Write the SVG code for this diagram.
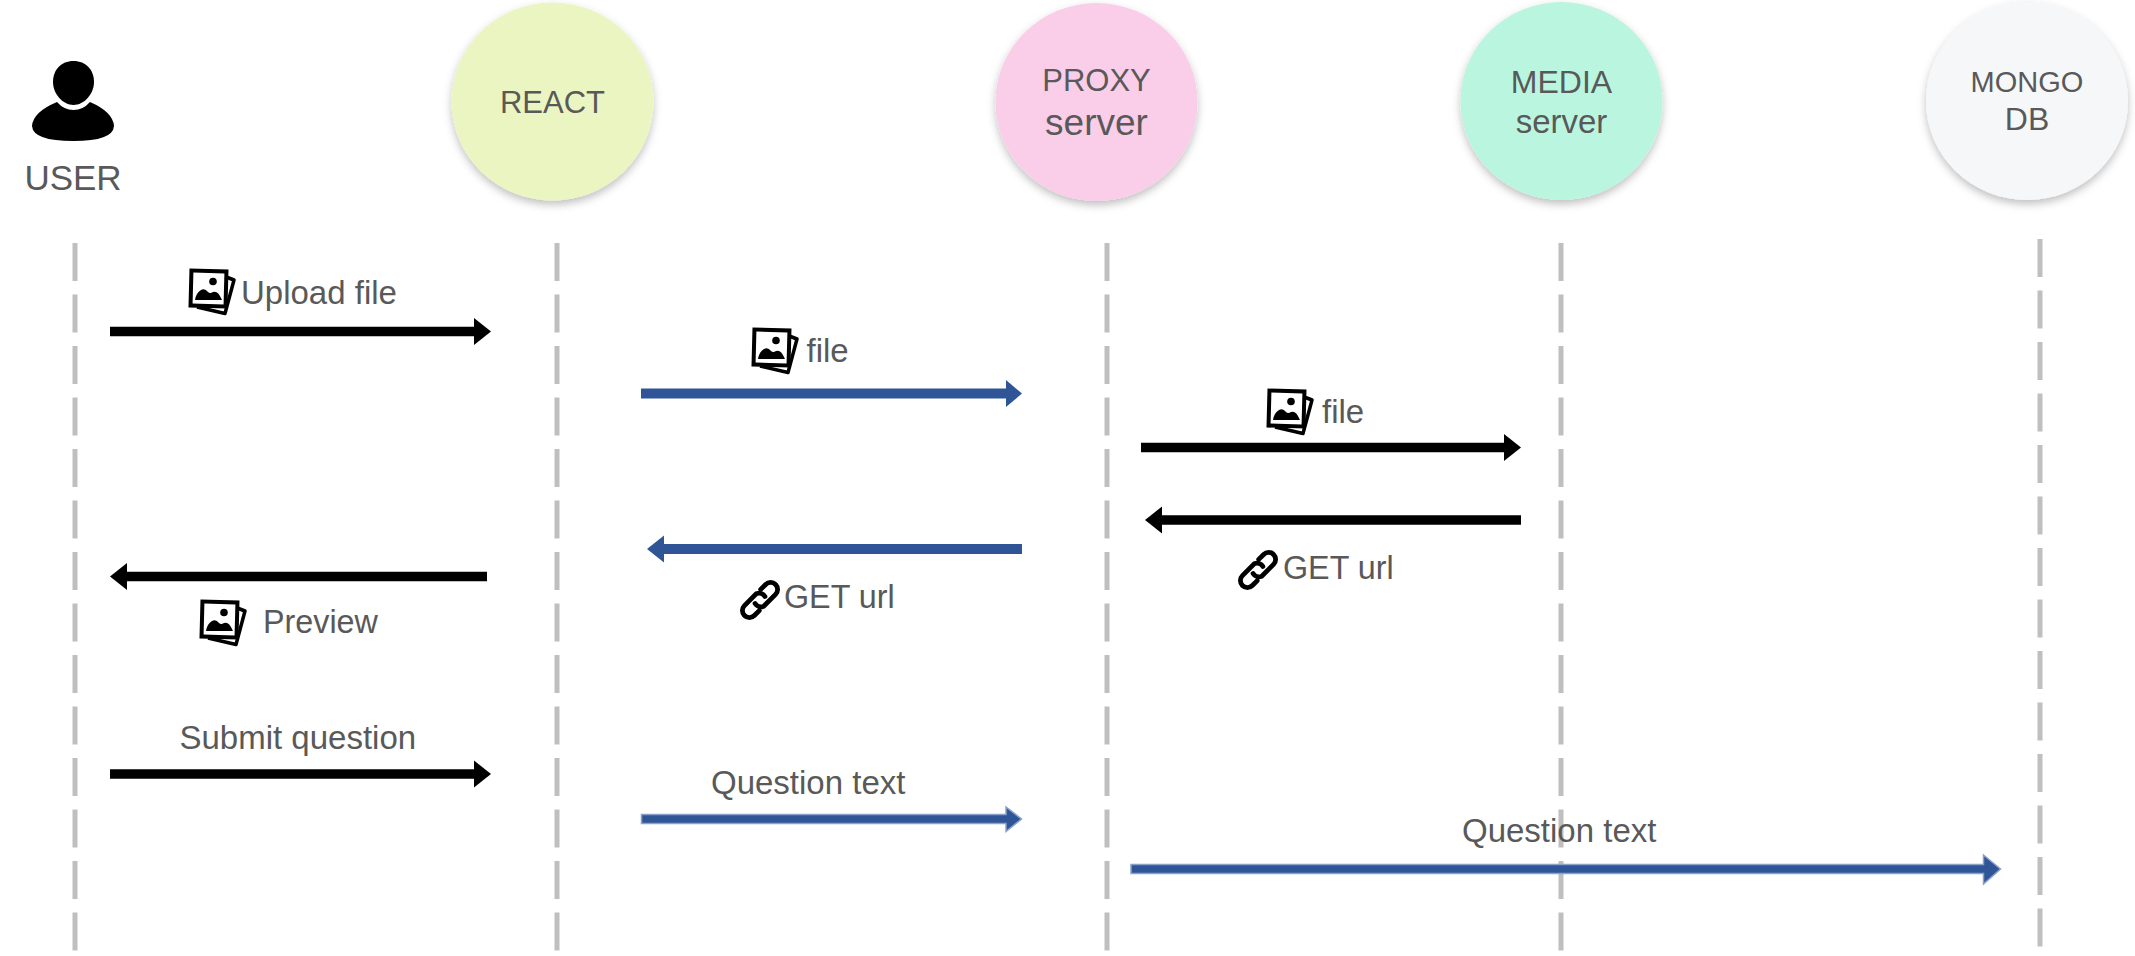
<svg xmlns="http://www.w3.org/2000/svg" xmlns:xlink="http://www.w3.org/1999/xlink" width="2135" height="956" viewBox="0 0 2135 956">
<style>
text{font-family:"Liberation Sans",Arial,sans-serif;fill:#595959;font-size:33px}
.m{text-anchor:middle}
.s{font-size:32.300px}
.life{stroke:#bfbfbf;stroke-width:5;stroke-dasharray:38 13.5;fill:none}
.k{stroke:#000;stroke-width:9.5;fill:none}
.b{stroke:#2f5597;stroke-width:10;fill:none}
.kh{fill:#000}
.bh{fill:#2f5597}
.edge{stroke:#8aa2cb;stroke-width:1.5}
</style>
<defs>
<filter id="sh" x="-20%" y="-20%" width="140%" height="140%"><feDropShadow dx="0" dy="4" stdDeviation="4" flood-color="#000" flood-opacity="0.25"/></filter>
<g id="pic">
<path d="M38.5 8.5 L45 11 L36 44.5 L8 38" fill="none" stroke="#000" stroke-width="3.5" stroke-linejoin="round"/>
<rect x="2" y="2" width="35" height="35" fill="#fff" stroke="#000" stroke-width="4" transform="rotate(1.5 19 19)"/>
<circle cx="24" cy="12.5" r="3.8" fill="#000"/>
<path d="M6 31 Q7 24 12 21 Q16 19 19 23 Q21 25 24 23 Q29 21 33 31 Z" fill="#000"/>
</g>
<g id="link">
<g transform="translate(19 19) rotate(-45)" fill="none" stroke="#000" stroke-width="4.8" stroke-linecap="round">
<path d="M-8 7 H-15 A7 7 0 0 1 -15 -7 H2 A7 7 0 0 1 6 1"/>
<path d="M8 -7 H15 A7 7 0 0 1 15 7 H-2 A7 7 0 0 1 -6 -1"/>
</g>
</g>
</defs>
<g id="lifelines">
<line class="life" x1="75" y1="243" x2="75" y2="951"/>
<line class="life" x1="557" y1="243" x2="557" y2="951"/>
<line class="life" x1="1107" y1="243" x2="1107" y2="951"/>
<line class="life" x1="1561" y1="243" x2="1561" y2="951"/>
<line class="life" x1="2040" y1="239" x2="2040" y2="947"/>
</g>
<g id="user">
<path d="M73.500 61 C86 61 94 70 94 82 C94 94 84 105 73.500 105 C63 105 53 94 53 82 C53 70 61 61 73.500 61 Z"/>
<path d="M57 102 Q64 110 73.500 110 Q83 110 90 102 Q113 112 114 126 Q113 141 73.500 141 Q33 141 32 126 Q33 112 57 102 Z"/>
<text class="m" x="73" y="190" style="font-size:35px">USER</text>
</g>
<g id="react">
<ellipse cx="552.500" cy="101.500" rx="101" ry="99" fill="#ebf5c1" filter="url(#sh)"/>
<text class="m" x="552.500" y="113" style="font-size:31px">REACT</text>
</g>
<g id="proxy">
<ellipse cx="1096.500" cy="102" rx="101" ry="99" fill="#facde9" filter="url(#sh)"/>
<text class="m" x="1096.500" y="91" style="font-size:31px">PROXY</text>
<text class="m" x="1096.500" y="135" style="font-size:37px">server</text>
</g>
<g id="media">
<ellipse cx="1561.500" cy="101" rx="101" ry="99" fill="#baf6df" filter="url(#sh)"/>
<text class="m" x="1561.500" y="93" style="font-size:32px">MEDIA</text>
<text class="m" x="1561.500" y="133" style="font-size:33px">server</text>
</g>
<g id="mongo">
<ellipse cx="2027" cy="101" rx="101" ry="99" fill="#f6f7f9" filter="url(#sh)"/>
<text class="m" x="2027" y="92" style="font-size:29px">MONGO</text>
<text class="m" x="2027" y="130" style="font-size:32px">DB</text>
</g>
<g id="connectors">
<line class="k" x1="110" y1="331.500" x2="475" y2="331.500"/><polygon class="kh" points="474,318 491,331.500 474,345"/>
<line class="b" x1="641" y1="393.500" x2="1007" y2="393.500"/><polygon class="bh" points="1006,380 1022,393.500 1006,407"/>
<line class="k" x1="1141" y1="447.500" x2="1505" y2="447.500"/><polygon class="kh" points="1504,434 1521,447.500 1504,461"/>
<line class="k" x1="1521" y1="520" x2="1161" y2="520"/><polygon class="kh" points="1162,506.500 1145,520 1162,533.500"/>
<line class="b" x1="1022" y1="549" x2="663" y2="549"/><polygon class="bh" points="664,535.500 647,549 664,562.500"/>
<line class="k" x1="487" y1="576.500" x2="126" y2="576.500"/><polygon class="kh" points="127,563 110,576.500 127,590"/>
<line class="k" x1="110" y1="774" x2="475" y2="774"/><polygon class="kh" points="474,760.500 491,774 474,787.500"/>
<path class="bh edge" d="M641.500 814.500 H1006 V807 L1021.500 819 L1006 831.500 V823.500 H641.500 Z"/>
<path class="bh edge" d="M1131 864.500 H1983.500 V855 L2000.500 869 L1983.500 884 V873.500 H1131 Z"/>
</g>
<g id="labels">
<use xlink:href="#pic" href="#pic" x="189" y="269"/>
<text x="241" y="304">Upload file</text>
<use xlink:href="#pic" href="#pic" x="752" y="328"/>
<text x="806.500" y="362">file</text>
<use xlink:href="#pic" href="#pic" x="1267" y="389"/>
<text x="1322" y="423">file</text>
<use xlink:href="#link" href="#link" x="1239" y="551"/>
<text class="s" x="1283" y="578.500">GET url</text>
<use xlink:href="#link" href="#link" x="741" y="581"/>
<text class="s" x="784" y="608">GET url</text>
<use xlink:href="#pic" href="#pic" x="200" y="600"/>
<text class="s" x="263" y="633">Preview</text>
<text x="179.500" y="749">Submit question</text>
<text x="711" y="794">Question text</text>
<text x="1462" y="841.500">Question text</text>
</g>
</svg>
